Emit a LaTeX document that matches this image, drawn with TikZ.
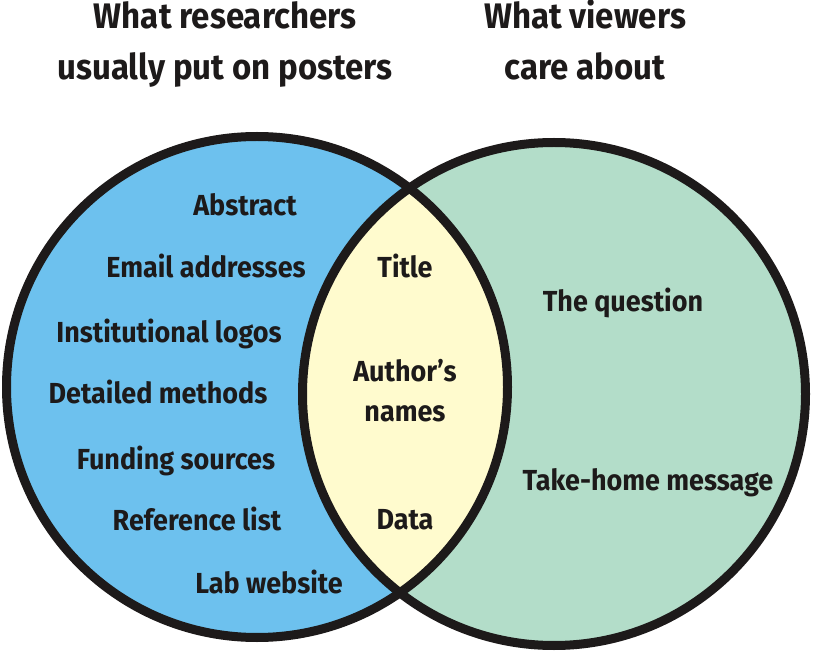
\documentclass[tikz,border=0pt]{standalone}
\usepackage{fontspec}
\setmainfont{Fira Sans}[FakeStretch=0.93]
\usepackage{xcolor}
\usetikzlibrary{positioning}

\definecolor{researchblue}{HTML}{6DC1EE}
\definecolor{viewergreen}{HTML}{B3DDC9}
\definecolor{overlapyellow}{HTML}{FFFBCE}
\definecolor{rimblack}{HTML}{1D1A1A}

\begin{document}
\begin{tikzpicture}[
    x=1pt,
    y=-1pt,
    line join=round
]


\tikzstyle{item}=[
    font=\bfseries\fontsize{29}{32}\selectfont,
    text=rimblack,
    inner sep=0pt,
    anchor=base
]
\tikzstyle{heading}=[
    item,
    font=\bfseries\fontsize{35.5}{40}\selectfont
]
\tikzstyle{rim}=[
    draw=rimblack,
    line width=9pt
]


\useasboundingbox[fill=white] (0,0) rectangle (820,652);


\coordinate (cl) at (257,387);
\coordinate (cr) at (554,394);


\fill[researchblue] (cl) circle[radius=250.5pt];
\fill[viewergreen] (cr) circle[radius=251.5pt];
\begin{scope}
    \clip (cl) circle[radius=250.5pt];
    \fill[overlapyellow] (cr) circle[radius=251.5pt];
\end{scope}
\draw[rim] (cr) circle[radius=251.5pt];
\draw[rim] (cl) circle[radius=250.5pt];


\node[heading] (whatres) at (225,29) {What researchers};
\node[heading] (usually) at (225,80) {usually put on posters};
\node[heading] (whatview) at (585,29) {What viewers};
\node[heading] (careabout) at (585,80) {care about};


\node[item] (abstract) at (245,216) {Abstract};
\node[item] (email) at (206,278) {Email addresses};
\node[item] (logos) at (169,343) {Institutional logos};
\node[item] (methods) at (158,404) {Detailed methods};
\node[item] (funding) at (176,469) {Funding sources};
\node[item] (reflist) at (197,530) {Reference list};
\node[item] (labweb) at (269,593) {Lab website};


\node[item] (title) at (405,278) {Title};
\node[item] (authors) at (405,382) {Author’s};
\node[item] (names) at (405,421) {names};
\node[item] (data) at (405,529) {Data};


\node[item] (question) at (623,312) {The question};
\node[item] (takehome) at (648,490) {Take-home message};

\end{tikzpicture}
\end{document}
